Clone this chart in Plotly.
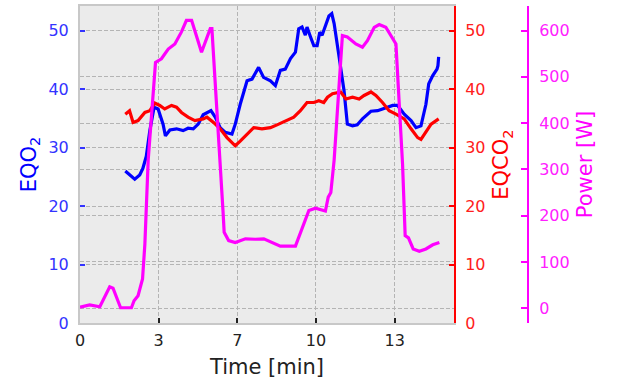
import plotly.graph_objects as go

# ---------------- data ----------------
eqo2_time = [1.92, 2.1, 2.32, 2.53, 2.66, 2.81, 2.96, 3.14, 3.31, 3.52, 3.62, 3.81, 4.09, 4.37, 4.58, 4.80,
             5.01, 5.22, 5.38, 5.55, 5.73, 5.94, 6.16, 6.44, 6.58, 6.79, 7.08, 7.29, 7.57, 7.78, 8.07, 8.28,
             8.49, 8.70, 8.92, 9.13, 9.27, 9.41, 9.55, 9.62, 9.77, 9.91, 10.05, 10.16, 10.26, 10.45, 10.55,
             10.67, 10.77, 10.98, 11.19, 11.33, 11.55, 11.75, 11.97, 12.33, 12.61, 12.82, 13.04, 13.25, 13.46,
             13.74, 14.03, 14.24, 14.45, 14.66, 14.78, 14.95, 15.13, 15.17, 15.2]
eqo2_vals = [26.0, 25.3, 24.6, 25.3, 26.4, 28.5, 32.9, 36.9, 36.6, 34.0, 32.0, 33.0, 33.2, 32.9, 33.3, 33.2,
             34.0, 35.6, 36.0, 36.3, 35.2, 33.4, 32.6, 32.3, 34.0, 37.4, 41.4, 41.7, 43.7, 42.0, 41.4, 40.6,
             43.2, 43.4, 45.2, 46.3, 50.3, 50.6, 49.2, 50.6, 48.9, 47.4, 47.4, 49.7, 49.2, 51.5, 52.5,
             52.9, 51.2, 45.5, 39.7, 34.0, 33.7, 33.9, 34.9, 36.2, 36.3, 36.6, 36.9, 37.2, 37.2,
             35.7, 34.6, 33.4, 33.7, 37.4, 40.9, 42.3, 43.4, 44.0, 45.5]

eqco2_time = [1.92, 2.1, 2.25, 2.46, 2.75, 2.96, 3.17, 3.38, 3.59, 3.88, 4.09, 4.30, 4.58, 4.87, 5.22, 5.38,
              5.66, 5.94, 6.23, 6.58, 6.79, 7.08, 7.36, 7.71, 8.07, 8.42, 8.77, 9.06, 9.34, 9.62, 9.91,
              10.12, 10.33, 10.49, 10.70, 11.05, 11.27, 11.55, 11.83, 12.04, 12.33, 12.54, 12.82, 13.10,
              13.39, 13.74, 14.03, 14.31, 14.45, 14.66, 14.88, 15.2]
eqco2_vals = [35.7, 36.3, 34.3, 34.6, 36.0, 36.3, 37.6, 37.2, 36.6, 37.2, 36.9, 36.0, 35.2, 34.6, 34.9, 35.2,
              34.3, 33.2, 31.7, 30.3, 31.1, 32.3, 33.4, 33.2, 33.4, 34.0, 34.6, 35.2, 36.3, 37.7, 37.7,
              38.0, 37.7, 38.6, 39.2, 39.5, 38.3, 38.6, 38.3, 38.9, 39.5, 38.9, 37.7, 36.3,
              35.7, 34.9, 33.2, 31.7, 31.4, 32.6, 34.0, 34.9]

power_time = [0, 0.41, 0.84, 1.26, 1.40, 1.72, 2.18, 2.29, 2.46, 2.65, 2.75, 2.89, 3.2, 3.45, 3.74, 4.02,
              4.30, 4.51, 4.73, 4.94, 5.15, 5.52, 5.59, 6.06, 6.11, 6.30, 6.58, 7.01, 7.43, 7.79, 8.14,
              8.49, 9.13, 9.41, 9.70, 9.98, 10.40, 10.52, 10.63, 10.77, 11.12, 11.33, 11.69, 11.97, 12.18,
              12.47, 12.68, 12.96, 13.18, 13.39, 13.67, 13.78, 13.92, 14.12, 14.38, 14.66, 14.95, 15.23]
power_vals = [2, 7, 3, 46, 43, 1, 1, 16, 27, 63, 139, 320, 531, 539, 560, 571,
              597, 622, 622, 586, 553, 604, 604, 211, 164, 146, 142, 150, 149, 150, 142,
              134, 134, 171, 211, 216, 210, 240, 250, 320, 589, 586, 571, 564, 578,
              607, 613, 607, 589, 571, 311, 157, 152, 128, 123, 128, 137, 142]

x_tick_vals = [0, 10 / 3, 20 / 3, 10, 40 / 3]
x_tick_labels = ["0", "3", "7", "10", "13"]
eq_ticks = [0, 10, 20, 30, 40, 50]
power_ticks = [0, 100, 200, 300, 400, 500, 600]

# ---------------- figure ----------------
FONT = "DejaVu Sans"
GRID = "#b4b4b4"
W, H = 621, 389
ML, MR, MT, MB = 80, 20, 6, 66
pw = W - ML - MR
x_end = 374 / pw
p_pos = 448 / pw

fig = go.Figure()
fig.add_trace(go.Scatter(x=eqo2_time, y=eqo2_vals, mode="lines", line=dict(color="#0000ff", width=3.2),
                         yaxis="y", showlegend=False))
fig.add_trace(go.Scatter(x=eqco2_time, y=eqco2_vals, mode="lines", line=dict(color="#ff0000", width=3.2),
                         yaxis="y2", showlegend=False))
fig.add_trace(go.Scatter(x=power_time, y=power_vals, mode="lines", line=dict(color="#ff00ff", width=3.2),
                         yaxis="y3", showlegend=False))

fig.update_layout(
    width=W, height=H,
    margin=dict(l=ML, r=MR, t=MT, b=MB),
    paper_bgcolor="white",
    plot_bgcolor="#ebebeb",
    font=dict(family=FONT, size=16),
    xaxis=dict(
        domain=[0, x_end], range=[0, 15.85], tickvals=x_tick_vals, ticktext=x_tick_labels,
        ticks="inside", ticklen=5, tickwidth=2, tickcolor="#222222",
        tickfont=dict(size=16, color="#222222", family=FONT),
        showgrid=True, gridcolor=GRID, griddash="4px,2px", gridwidth=1,
        showline=True, linecolor="#c8c8c8", linewidth=2, mirror=True,
        zeroline=False, automargin=False, ticklabelstandoff=2,
        title=dict(text="Time [min]", font=dict(size=21, color="#222222", family=FONT), standoff=10),
    ),
    yaxis=dict(
        range=[0, 54.2], tickvals=eq_ticks, ticks="inside", ticklen=5, tickwidth=2, tickcolor="#3333ff",
        tickfont=dict(size=16, color="#3333ff", family=FONT),
        showgrid=True, gridcolor=GRID, griddash="4px,2px", gridwidth=1,
        showline=True, linecolor="#c8c8c8", linewidth=2,
        zeroline=False, automargin=False, ticklabelstandoff=6,
        title=dict(text="EQO<sub>2</sub>", font=dict(size=21, color="#0000ff", family=FONT), standoff=6),
    ),
    yaxis2=dict(
        range=[0, 54.2], tickvals=eq_ticks, overlaying="y", side="right", anchor="x",
        ticks="inside", ticklen=5, tickwidth=2, tickcolor="#ff0000",
        tickfont=dict(size=16, color="#ff2020", family=FONT),
        showgrid=False, showline=True, linecolor="#ff0000", linewidth=2,
        zeroline=False, automargin=False, ticklabelstandoff=6,
        title=dict(text="EQCO<sub>2</sub>", font=dict(size=21, color="#ff0000", family=FONT), standoff=9),
    ),
    yaxis3=dict(
        range=[-32, 653], tickvals=power_ticks, overlaying="y", side="right", anchor="free", position=p_pos,
        ticks="inside", ticklen=6, tickwidth=2, tickcolor="#ff00ff",
        tickfont=dict(size=16, color="#ff20ff", family=FONT),
        showgrid=True, gridcolor=GRID, griddash="4px,2px", gridwidth=1,
        showline=True, linecolor="#ff00ff", linewidth=2,
        zeroline=False, automargin=False, ticklabelstandoff=7,
        title=dict(text="Power [W]", font=dict(size=21, color="#ff00ff", family=FONT), standoff=8),
    ),
)

fig.write_html("out.html")
